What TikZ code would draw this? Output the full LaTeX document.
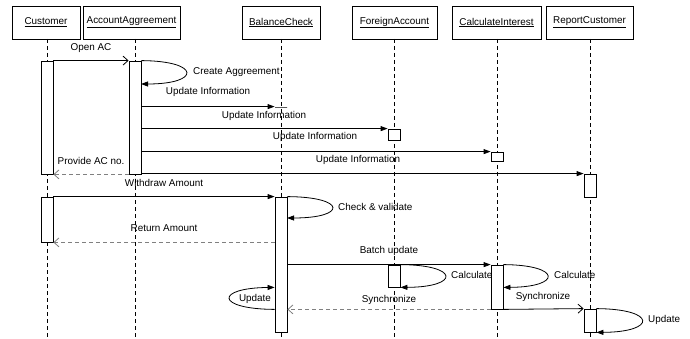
\documentclass[tikz,border=0pt]{standalone}
\usepackage{fontspec}
\setmainfont{Liberation Sans}
\usetikzlibrary{arrows.meta,positioning}

\begin{document}
\begin{tikzpicture}[
    x=1pt, y=-1pt,
    every node/.style={font=\fontsize{9.9}{11}\selectfont},
    head/.style={draw, line width=0.8pt, fill=white, minimum height=33pt, inner sep=0pt},
    bar/.style={draw, line width=0.8pt, fill=white, minimum width=12pt, inner sep=0pt},
    msg/.style={inner sep=1pt},
    life_line/.style={line width=0.6pt, dash pattern=on 4pt off 3pt},
    call_edge/.style={line width=0.8pt, -{Triangle[length=7pt,width=5pt]}},
    open_edge/.style={line width=0.8pt, -{Straight Barb[length=5pt,width=9pt]}},
    return_edge/.style={line width=0.8pt, gray, dash pattern=on 4pt off 3pt, -{Straight Barb[length=5pt,width=9pt]}},
    self_edge/.style={line width=0.8pt, -{Triangle[length=7pt,width=5pt]}}
]
    \useasboundingbox (0,0) rectangle (690,339);

    % Objects
    \node[head, minimum width=68pt] (cust) at (46,22.5) {\underline{Customer}};
    \node[head, minimum width=97pt] (acc) at (131.5,22.5) {\underline{AccountAggreement}};
    \node[head, minimum width=78pt] (bal) at (281,22.5) {\underline{BalanceCheck}};
    \node[head, minimum width=85pt] (for) at (394.5,22.5) {\underline{ForeignAccount}};
    \node[head, minimum width=89pt] (calc) at (496.5,22.5) {\underline{CalculateInterest}};
    \node[head, minimum width=87pt] (rep) at (589.5,22.5) {\underline{ReportCustomer}};

    % Lifelines
    \draw[life_line] (47,39) -- (47,339);
    \draw[life_line] (135,39) -- (135,339);
    \draw[life_line] (281,39) -- (281,339);
    \draw[life_line] (394,39) -- (394,339);
    \draw[life_line] (497,39) -- (497,339);
    \draw[life_line] (590,39) -- (590,339);

    % Activations
    \node[bar, minimum height=113pt] (cb1) at (47,117.5) {};
    \node[bar, minimum height=45pt] (cb2) at (47,219.5) {};
    \node[bar, minimum height=113pt] (ab1) at (135,117.5) {};
    \node[bar, minimum height=0pt] (bb0) at (281,107) {};
    \node[bar, minimum height=11pt] (fb1) at (394,134.5) {};
    \node[bar, minimum height=9pt] (kb1) at (497,156.5) {};
    \node[bar, minimum height=23pt] (rb1) at (590,185.5) {};
    \node[bar, minimum height=135pt] (bb1) at (281,264.5) {};
    \node[bar, minimum height=22pt] (fb2) at (394,276) {};
    \node[bar, minimum height=44pt] (kb2) at (497,287) {};
    \node[bar, minimum height=23pt] (rb2) at (590,320.5) {};

    \coordinate (ca) at (141,84);
    \coordinate (cv) at (287,218);

    % Account opening
    \draw[open_edge] (cb1.north east) -- (ab1.north west);
    \node[msg] (lOpen) at (91,48) {Open AC};
    \draw[self_edge] (ab1.north east) .. controls (201,61) and (201,84) .. (ca);
    \node[msg, anchor=west] (lCreate) at (192,72) {Create Aggreement};
    \draw[call_edge] (ab1.east |- bb0.north) -- (bb0.north west);
    \node[msg] (lUp1) at (208,92) {Update Information};
    \draw[call_edge] (ab1.east |- fb1.north) -- (fb1.north west);
    \node[msg] (lUp2) at (264,116) {Update Information};
    \draw[call_edge] (ab1.east |- kb1.north) -- (kb1.north west);
    \node[msg] (lUp3) at (315,137) {Update Information};
    \draw[call_edge] (ab1.east |- rb1.north) -- (rb1.north west);
    \node[msg] (lUp4) at (358,160) {Update Information};
    \draw[return_edge] (ab1.south west) -- (cb1.south east);
    \node[msg] (lProv) at (91,161) {Provide AC no.};

    % Withdrawal
    \draw[call_edge] (cb2.north east) -- (bb1.north west);
    \node[msg] (lWith) at (164,183) {Withdraw Amount};
    \draw[self_edge] (bb1.north east) .. controls (347,197) and (347,218) .. (cv);
    \node[msg, anchor=west] (lCheck) at (337,207) {Check \& validate};
    \draw[return_edge] (bb1.west |- cb2.south) -- (cb2.south east);
    \node[msg] (lRet) at (164,228) {Return Amount};

    % Batch update
    \draw[call_edge] (bb1.east |- kb2.north) -- (kb2.north west);
    \node[msg] (lBatch) at (389,251) {Batch update};
    \draw[self_edge] (fb2.north east) .. controls (460,265) and (460,287) .. (fb2.south east);
    \node[msg, anchor=west] (lCalc1) at (450,275) {Calculate};
    \draw[self_edge] (kb2.north east) .. controls (562,265) and (562,287) .. (kb2.east |- fb2.south);
    \node[msg, anchor=west] (lCalc2) at (553,275) {Calculate};
    \draw[return_edge] (kb2.south west) -- (bb1.east |- kb2.south);
    \node[msg] (lSync1) at (389,300) {Synchronize};
    \draw[open_edge] (kb2.south east) -- (rb2.north west);
    \node[msg] (lSync2) at (543,297) {Synchronize};
    \draw[self_edge] (bb1.west |- kb2.south) .. controls (215,309) and (215,288) .. (bb1.west |- fb2.south);
    \node[msg] (lUpd1) at (255,299) {Update};
    \draw[self_edge] (rb2.north east) .. controls (657,309) and (657,332) .. (rb2.south east);
    \node[msg, anchor=west] (lUpd2) at (647,320) {Update};
\end{tikzpicture}
\end{document}
